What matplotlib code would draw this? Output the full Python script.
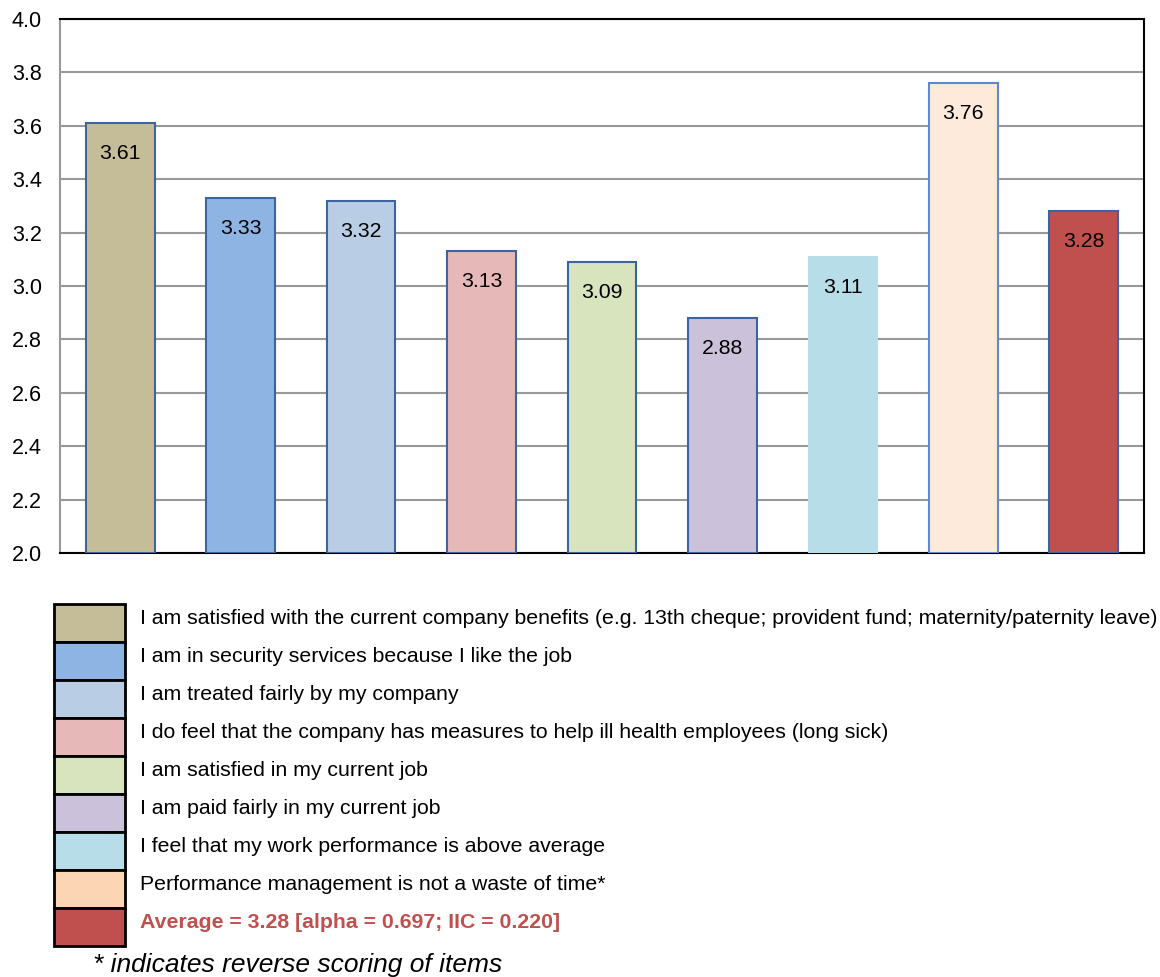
import matplotlib
matplotlib.use("Agg")
import matplotlib.pyplot as plt
from matplotlib.patches import Rectangle

plt.rcParams['font.family'] = ['Liberation Sans', 'DejaVu Sans']

categories = [
    "I am satisfied with the current company benefits (e.g. 13th cheque; provident fund; maternity/paternity leave)",
    "I am in security services because I like the job",
    "I am treated fairly by my company",
    "I do feel that the company has measures to help ill health employees (long sick)",
    "I am satisfied in my current job",
    "I am paid fairly in my current job",
    "I feel that my work performance is above average",
    "Performance management is not a waste of time*",
    "Average = 3.28 [alpha = 0.697; IIC = 0.220]",
]
values = [3.61, 3.33, 3.32, 3.13, 3.09, 2.88, 3.11, 3.76, 3.28]
value_labels = ["3.61", "3.33", "3.32", "3.13", "3.09", "2.88", "3.11", "3.76", "3.28"]
bar_colors = ["#C4BD97", "#8EB4E3", "#B9CDE5", "#E6B9B8", "#D7E4BD",
              "#CCC1DA", "#B7DEE8", "#FDEADA", "#C0504D"]
edge_colors = ["#3B64A0", "#3B64A0", "#3B64A0", "#3B64A0", "#3B64A0",
               "#3B64A0", "#B7DEE8", "#5B8BCB", "#3B64A0"]
legend_colors = ["#C4BD97", "#8EB4E3", "#B9CDE5", "#E6B9B8", "#D7E4BD",
                 "#CCC1DA", "#B7DEE8", "#FCD5B5", "#C0504D"]
yticks = [2.0, 2.2, 2.4, 2.6, 2.8, 3.0, 3.2, 3.4, 3.6, 3.8, 4.0]
footnote = "* indicates reverse scoring of items"

W, H = 1160, 977
fig = plt.figure(figsize=(W / 100, H / 100), dpi=100)

ax = fig.add_axes([60 / W, 1 - 553 / H, (1144 - 60) / W, (553 - 19) / H])
x = list(range(len(values)))
ax.bar(x, [v - 2.0 for v in values], bottom=2.0, width=0.57,
       color=bar_colors, edgecolor=edge_colors, linewidth=1.5, zorder=3)
for xi, v, lab in zip(x, values, value_labels):
    ax.text(xi, v - 0.115, lab, ha='center', va='center', fontsize=15.3, color='black', zorder=4)

ax.set_xlim(-0.5, len(values) - 0.5)
ax.set_ylim(2.0, 4.0)
ax.set_yticks(yticks)
ax.set_yticklabels([f"{t:.1f}" for t in yticks], fontsize=15.5)
ax.set_xticks([])
ax.tick_params(axis='y', length=0, pad=13)
ax.grid(axis='y', color='#999999', linewidth=1.5, zorder=0)
ax.set_axisbelow(True)
for s in ['top', 'right', 'bottom']:
    ax.spines[s].set_color('black')
    ax.spines[s].set_linewidth(1.5)
ax.spines['left'].set_color('#999999')
ax.spines['left'].set_linewidth(1.5)

# legend drawn manually
row_h = 38
top = 604
for i, (cat, col) in enumerate(zip(categories, legend_colors)):
    y0 = top + i * row_h
    fig.add_artist(Rectangle((54 / W, 1 - (y0 + row_h) / H), 71 / W, row_h / H,
                             transform=fig.transFigure, facecolor=col,
                             edgecolor='black', linewidth=2))
    last = (i == len(categories) - 1)
    fig.text(140 / W, 1 - (y0 + row_h / 2 - 4) / H, cat, ha='left', va='center',
             fontsize=15.3, color='#C0504D' if last else 'black',
             fontweight='bold' if last else 'normal')

fig.text(93 / W, 1 - 965 / H, footnote, ha='left', va='center',
         fontsize=19, style='italic', color='black')

fig.savefig("out.png", dpi=100)
